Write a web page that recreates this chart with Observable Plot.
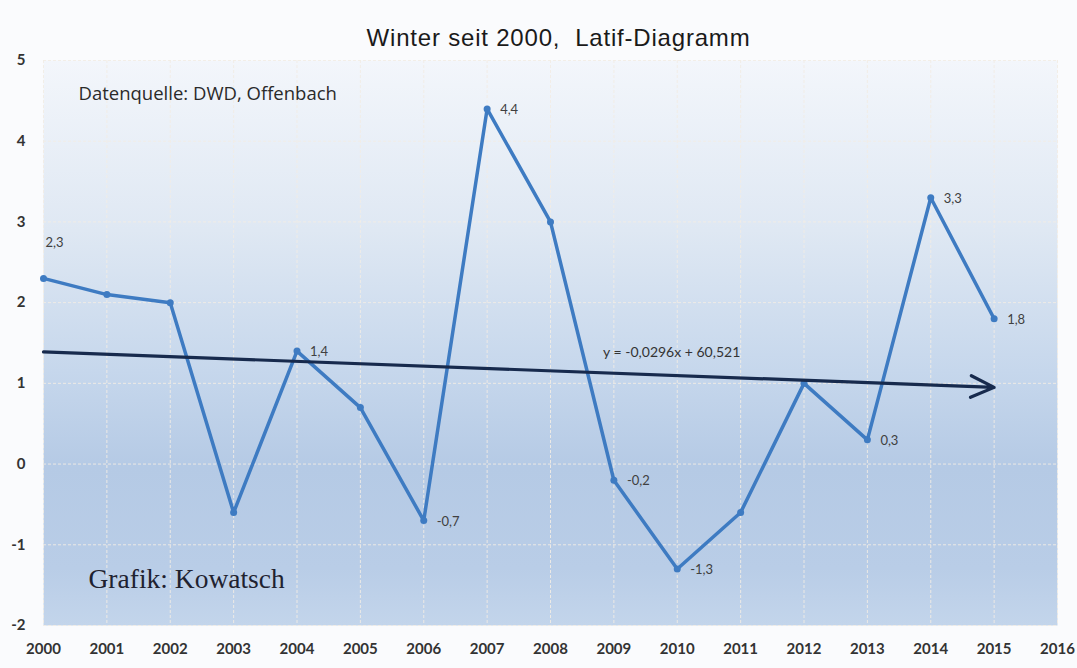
<!DOCTYPE html>
<html>
<head>
<meta charset="utf-8">
<script src="https://cdn.jsdelivr.net/npm/d3@7"></script>
<script src="https://cdn.jsdelivr.net/npm/@observablehq/plot@0.6"></script>
<style>
  html, body { margin: 0; padding: 0; background: #ffffff; overflow: hidden; }
  #chart svg { display: block; }
</style>
</head>
<body>
<div id="chart"></div>
<script>
// ---- data ----
const years = [2000, 2001, 2002, 2003, 2004, 2005, 2006, 2007, 2008, 2009, 2010, 2011, 2012, 2013, 2014, 2015];
const values = [2.3, 2.1, 2.0, -0.6, 1.4, 0.7, -0.7, 4.4, 3.0, -0.2, -1.3, -0.6, 1.0, 0.3, 3.3, 1.8];
const labeledYears = [2000, 2004, 2006, 2007, 2009, 2010, 2013, 2014, 2015];
const trendYears = [2000, 2015];
const trendValues = [1.39, 0.95];
const xTicks = [2000, 2001, 2002, 2003, 2004, 2005, 2006, 2007, 2008, 2009, 2010, 2011, 2012, 2013, 2014, 2015, 2016];
const yTicks = [-2, -1, 0, 1, 2, 3, 4, 5];
const titleText = "Winter seit 2000,  Latif-Diagramm";
const sourceText = "Datenquelle: DWD, Offenbach";
const authorText = "Grafik: Kowatsch";
const equationText = "y = -0,0296x + 60,521";

const rows = years.map((y, i) => ({year: y, value: values[i]}));
const labelRows = rows.filter(d => labeledYears.includes(d.year));
const trend = {x1: trendYears[0], y1: trendValues[0], x2: trendYears[1], y2: trendValues[1]};
const fmt = v => v.toFixed(1).replace(".", ",");

const lineColor = "#3e7bc2";
const labelFont = "Lato, 'Open Sans', sans-serif";

const plot = Plot.plot({
  width: 1077,
  height: 668,
  marginLeft: 43,
  marginRight: 20,
  marginTop: 60,
  marginBottom: 43,
  style: {background: "#fafbfd", fontFamily: labelFont, overflow: "visible"},
  x: {domain: [2000, 2016], ticks: xTicks, tickFormat: d => String(d), label: null},
  y: {domain: [-2, 5], ticks: yTicks, tickFormat: d => String(d), label: null},
  marks: [
    Plot.frame({fill: "url(#bgGrad)", stroke: null}),
    Plot.gridX(xTicks, {stroke: "#f2ece4", strokeOpacity: 0.9, strokeDasharray: "3,2", strokeWidth: 1}),
    Plot.gridY(yTicks, {stroke: "#f2ece4", strokeOpacity: 0.9, strokeDasharray: "3,2", strokeWidth: 1}),
    Plot.axisX(xTicks, {tickSize: 0, tickPadding: 18, fontSize: 15, fontWeight: 700, fill: "#333", tickFormat: d => String(d)}),
    Plot.axisY(yTicks, {tickSize: 0, tickPadding: 18, fontSize: 15, fontWeight: 700, fill: "#333", tickFormat: d => String(d)}),
    Plot.line(rows, {x: "year", y: "value", stroke: lineColor, strokeWidth: 3.5, strokeLinejoin: "round"}),
    Plot.dot(rows, {x: "year", y: "value", r: 3.5, fill: lineColor, stroke: null}),
    Plot.arrow([trend], {x1: "x1", y1: "y1", x2: "x2", y2: "y2", stroke: "#172a4d", strokeWidth: 3.2, headLength: 12, headAngle: 50}),
    Plot.text(labelRows.filter(d => d.year === 2000), {x: "year", y: "value", text: d => fmt(d.value), textAnchor: "start", dx: 2, dy: -36, fontSize: 13, fill: "#404040"}),
    Plot.text(labelRows.filter(d => d.year !== 2000), {x: "year", y: "value", text: d => fmt(d.value), textAnchor: "start", dx: 13, dy: 1, fontSize: 13, fill: "#404040"}),
    Plot.text([equationText], {x: 2008.83, y: 1.38, text: d => d, textAnchor: "start", fontSize: 14, fill: "#333"}),
    Plot.text([sourceText], {frameAnchor: "top-left", dx: 35, dy: 26, text: d => d, textAnchor: "start", fontSize: 18.5, fill: "#2a2a2a", fontFamily: "'Open Sans', Lato, sans-serif"}),
    Plot.text([authorText], {frameAnchor: "bottom-left", dx: 45, dy: -38, text: d => d, textAnchor: "start", fontSize: 27.5, fill: "#1f2230", fontFamily: "'Liberation Serif', 'DejaVu Serif', serif"}),
    Plot.text([titleText], {frameAnchor: "top", dx: 8, dy: -32, text: d => d, fontSize: 24, fill: "#1a1a1a", fontFamily: "'Liberation Sans', Arial, sans-serif"})
  ]
});

const svg = d3.select(plot);
const defs = svg.insert("defs", ":first-child");
const grad = defs.append("linearGradient").attr("id", "bgGrad").attr("x1", 0).attr("y1", 0).attr("x2", 0).attr("y2", 1);
[["0%", "#f3f6fb"], ["30%", "#dfe8f3"], ["55%", "#c6d7ec"], ["72%", "#b5cae5"], ["90%", "#b9cde7"], ["100%", "#c3d5eb"]]
  .forEach(([o, c]) => grad.append("stop").attr("offset", o).attr("stop-color", c));
// slight letter spacing on the title to match the original's width
svg.selectAll("text").filter(function() { return this.textContent === titleText; }).attr("letter-spacing", "0.8px");
svg.selectAll("text").filter(function() { return this.parentNode && this.parentNode.textContent === titleText; }).attr("letter-spacing", "0.8px");

document.getElementById("chart").appendChild(plot);
</script>
</body>
</html>
